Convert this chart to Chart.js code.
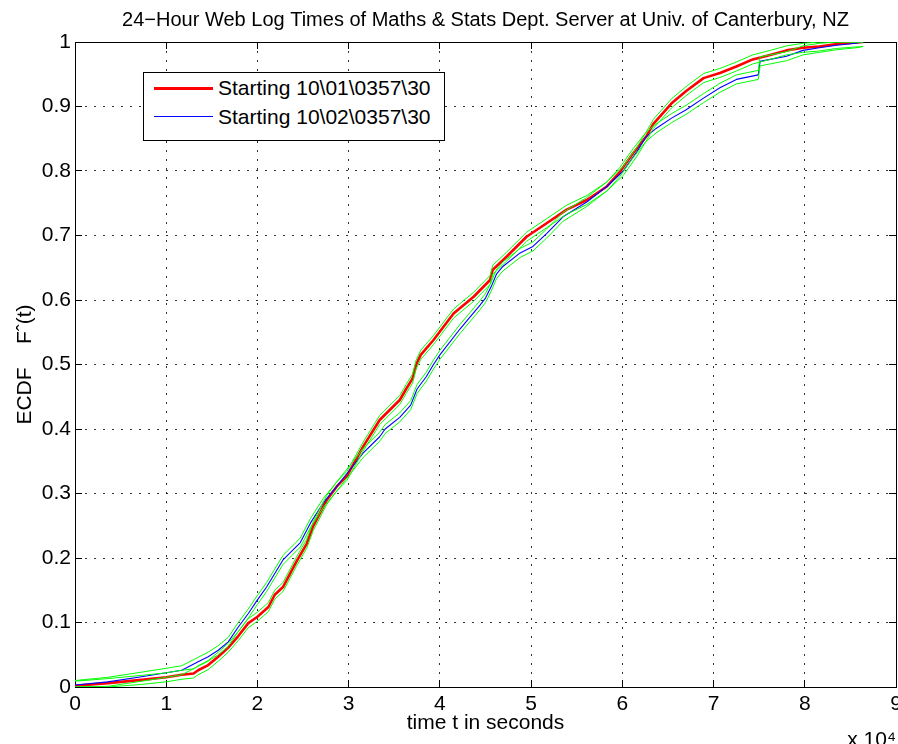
<!DOCTYPE html>
<html>
<head>
<meta charset="utf-8">
<script src="https://cdn.jsdelivr.net/npm/chart.js@4.4.0/dist/chart.umd.min.js"></script>
<style>
  html, body { margin: 0; padding: 0; background: #fff; overflow: hidden; }
  #wrap { position: relative; width: 898px; height: 744px; overflow: hidden; background: #fff; }
  #c { position: absolute; left: 0; top: 0; }
  #legend { position: absolute; left: 143px; top: 72px; width: 302px; height: 69px; box-sizing: border-box;
            border: 1px solid #000; background: #fff; color: #000;
            font-family: "Liberation Sans", Arial, Helvetica, sans-serif; font-size: 21px; }
  .row { position: absolute; left: 0; width: 100%; height: 24px; }
  .swatch { position: absolute; left: 10px; width: 59px; }
  .lbl { position: absolute; left: 74px; top: 0; line-height: 24px; white-space: pre; }
</style>
</head>
<body>
<div id="wrap">
  <canvas id="c" width="912" height="760"></canvas>
  <div id="legend"></div>
</div>
<script>
// ---------------- data ----------------
const chartTitle = '24\u2212Hour Web Log Times of Maths & Stats Dept. Server at Univ. of Canterbury, NZ';
const xAxisTitle = 'time t in seconds';
const yAxisTitle = 'ECDF    F\u02C6(t)';
const xScaleNote = 'x 10\u2074';
const seriesLabels = ['Starting 10\\01\\0357\\30', 'Starting 10\\02\\0357\\30'];

const xTickLabels = ['0', '1', '2', '3', '4', '5', '6', '7', '8', '9'];
const yTickLabels = ['0', '0.1', '0.2', '0.3', '0.4', '0.5', '0.6', '0.7', '0.8', '0.9', '1'];

// day 1 (red) ECDF: times in seconds and values
const timesDay1 = [0, 3600, 7300, 10000, 11700, 13000, 13500, 14600, 15700, 16800,
  17900, 19000, 20000, 21200, 21900, 22800, 24300, 25400, 26100, 27600,
  28700, 29800, 31600, 33400, 35600, 36300, 37000, 37400, 37900, 39300,
  41500, 43700, 45500, 45800, 47300, 49500, 51700, 53900, 56100, 58300,
  59700, 61200, 62600, 63400, 65400, 67000, 68900, 70700, 72500, 74300,
  76200, 78000, 79800, 81600, 83500, 85300, 86400];
const ecdfDay1 = [0.002, 0.006, 0.011, 0.015, 0.019, 0.021, 0.026, 0.034, 0.047, 0.061,
  0.079, 0.099, 0.109, 0.124, 0.143, 0.155, 0.195, 0.222, 0.249, 0.290,
  0.311, 0.327, 0.373, 0.414, 0.445, 0.462, 0.478, 0.500, 0.515, 0.538,
  0.579, 0.605, 0.631, 0.647, 0.667, 0.698, 0.719, 0.740, 0.755, 0.776,
  0.798, 0.828, 0.853, 0.873, 0.905, 0.924, 0.944, 0.952, 0.962, 0.973,
  0.980, 0.987, 0.991, 0.993, 0.997, 0.999, 1.0];

// day 2 (blue) ECDF
const timesDay2 = [0, 3600, 7300, 10000, 11700, 13500, 14600, 15700, 16800, 17900,
  19000, 20000, 21000, 21900, 22800, 24700, 25800, 27200, 28700, 30100,
  31600, 33400, 34000, 35600, 36800, 37500, 38500, 39300, 40000, 42200,
  44400, 45000, 45600, 46200, 46900, 48800, 50200, 51700, 53500, 56100,
  58300, 60100, 61600, 62600, 63700, 65400, 67000, 68900, 70700, 72500,
  74900, 75100, 76200, 78000, 79800, 81600, 83500, 85600, 86400];
const ecdfDay2 = [0.003, 0.008, 0.016, 0.022, 0.026, 0.039, 0.047, 0.057, 0.070, 0.093,
  0.114, 0.135, 0.155, 0.176, 0.197, 0.224, 0.254, 0.285, 0.311, 0.336,
  0.363, 0.388, 0.400, 0.418, 0.437, 0.462, 0.481, 0.500, 0.515, 0.555,
  0.592, 0.603, 0.620, 0.640, 0.652, 0.673, 0.683, 0.703, 0.729, 0.752,
  0.776, 0.800, 0.830, 0.853, 0.866, 0.882, 0.895, 0.913, 0.929, 0.942,
  0.949, 0.970, 0.973, 0.978, 0.987, 0.991, 0.995, 0.998, 1.0];

// half-width of the green confidence bands around each ECDF
const bandHalfWidth = 0.007;

// ---------------- chart ----------------
const FONT = '"Liberation Sans", Arial, Helvetica, sans-serif';
Chart.defaults.font.family = FONT;
Chart.defaults.color = '#000';

function pts(ts, vs) { return ts.map((t, i) => ({ x: t, y: vs[i] })); }
function band(ts, vs, sign) {
  return ts.map((t, i) => ({ x: t, y: Math.min(1, Math.max(0, vs[i] + sign * bandHalfWidth)) }));
}

const lineBase = { pointRadius: 0, pointHoverRadius: 0, tension: 0, fill: false, borderJoinStyle: 'round' };
const GREEN = '#00ff00';

const datasets = [
  Object.assign({ label: seriesLabels[0], data: pts(timesDay1, ecdfDay1), borderColor: '#ff0000', borderWidth: 2.6, order: 2 }, lineBase),
  Object.assign({ label: seriesLabels[1], data: pts(timesDay2, ecdfDay2), borderColor: '#0000ff', borderWidth: 1.1, order: 1 }, lineBase),
  Object.assign({ label: 'band1+', data: band(timesDay1, ecdfDay1, 1), borderColor: GREEN, borderWidth: 1, order: 0 }, lineBase),
  Object.assign({ label: 'band1-', data: band(timesDay1, ecdfDay1, -1), borderColor: GREEN, borderWidth: 1, order: 0 }, lineBase),
  Object.assign({ label: 'band2+', data: band(timesDay2, ecdfDay2, 1), borderColor: GREEN, borderWidth: 1, order: 0 }, lineBase),
  Object.assign({ label: 'band2-', data: band(timesDay2, ecdfDay2, -1), borderColor: GREEN, borderWidth: 1, order: 0 }, lineBase)
];

const gridMain = { color: 'rgba(0,0,0,0.8)', lineWidth: 1, drawTicks: true, tickLength: -7,
                   tickColor: '#000', tickWidth: 1, tickBorderDash: [] };
const borderMain = { display: true, color: '#000', width: 1, dash: [2, 7] };
const gridMirror = { drawOnChartArea: false, drawTicks: true, tickLength: -7, color: '#000',
                     tickColor: '#000', tickWidth: 1, tickBorderDash: [] };

const chart = new Chart(document.getElementById('c'), {
  type: 'line',
  data: { datasets },
  options: {
    responsive: false,
    animation: false,
    devicePixelRatio: 1,
    events: [],
    layout: { padding: { left: 0, top: 0, right: 16, bottom: 7.4 } },
    scales: {
      x: {
        type: 'linear', position: 'bottom', min: 0, max: 90000,
        ticks: { stepSize: 10000, autoSkip: false, maxRotation: 0, padding: 12,
                 font: { size: 21 }, color: '#000',
                 callback: (v) => xTickLabels[Math.round(v / 10000)] },
        grid: gridMain,
        border: borderMain,
        title: { display: true, text: xAxisTitle, color: '#000', font: { size: 21 }, padding: { top: 0, bottom: 0 } },
        afterFit: (s) => { s.height = 48.6; s.paddingRight = 0; }
      },
      y: {
        type: 'linear', position: 'left', min: 0, max: 1,
        ticks: { stepSize: 0.1, autoSkip: false, padding: 11, font: { size: 21 }, color: '#000',
                 callback: (v) => yTickLabels[Math.round(v * 10)] },
        grid: gridMain,
        border: borderMain,
        title: { display: true, text: yAxisTitle, color: '#000', font: { size: 21 }, padding: { top: 13, bottom: 0 } },
        afterFit: (s) => { s.width = 75; }
      },
      x2: {
        type: 'linear', position: 'top', min: 0, max: 90000,
        ticks: { display: false, stepSize: 10000 },
        grid: gridMirror,
        border: { display: true, color: '#000', width: 1 },
        afterFit: (s) => { s.height = 0; s.paddingLeft = 0; s.paddingRight = 0; }
      },
      y2: {
        type: 'linear', position: 'right', min: 0, max: 1,
        ticks: { display: false, stepSize: 0.1 },
        grid: gridMirror,
        border: { display: true, color: '#000', width: 1 },
        afterFit: (s) => { s.width = 0; }
      }
    },
    plugins: {
      legend: { display: false },
      tooltip: { enabled: false },
      title: { display: true, text: chartTitle, fullSize: false, color: '#000',
               font: { size: 20, weight: 'normal' }, padding: { top: 8, bottom: 10 } },
      subtitle: { display: true, text: xScaleNote, position: 'bottom', align: 'end', fullSize: false,
                  color: '#000', font: { size: 21, weight: 'normal' }, padding: { top: -8.2, bottom: 0 } }
    }
  }
});

// legend built from the chart's own datasets (first two series)
const legendEl = document.getElementById('legend');
const rowCenters = [15.3, 43.7];
chart.data.datasets.slice(0, 2).forEach((ds, i) => {
  const row = document.createElement('div');
  row.className = 'row';
  row.style.top = (rowCenters[i] - 12) + 'px';
  const sw = document.createElement('div');
  sw.className = 'swatch';
  sw.style.height = ds.borderWidth + 'px';
  sw.style.top = (12 - ds.borderWidth / 2) + 'px';
  sw.style.background = ds.borderColor;
  const lb = document.createElement('div');
  lb.className = 'lbl';
  lb.textContent = ds.label;
  row.appendChild(sw);
  row.appendChild(lb);
  legendEl.appendChild(row);
});
</script>
</body>
</html>
